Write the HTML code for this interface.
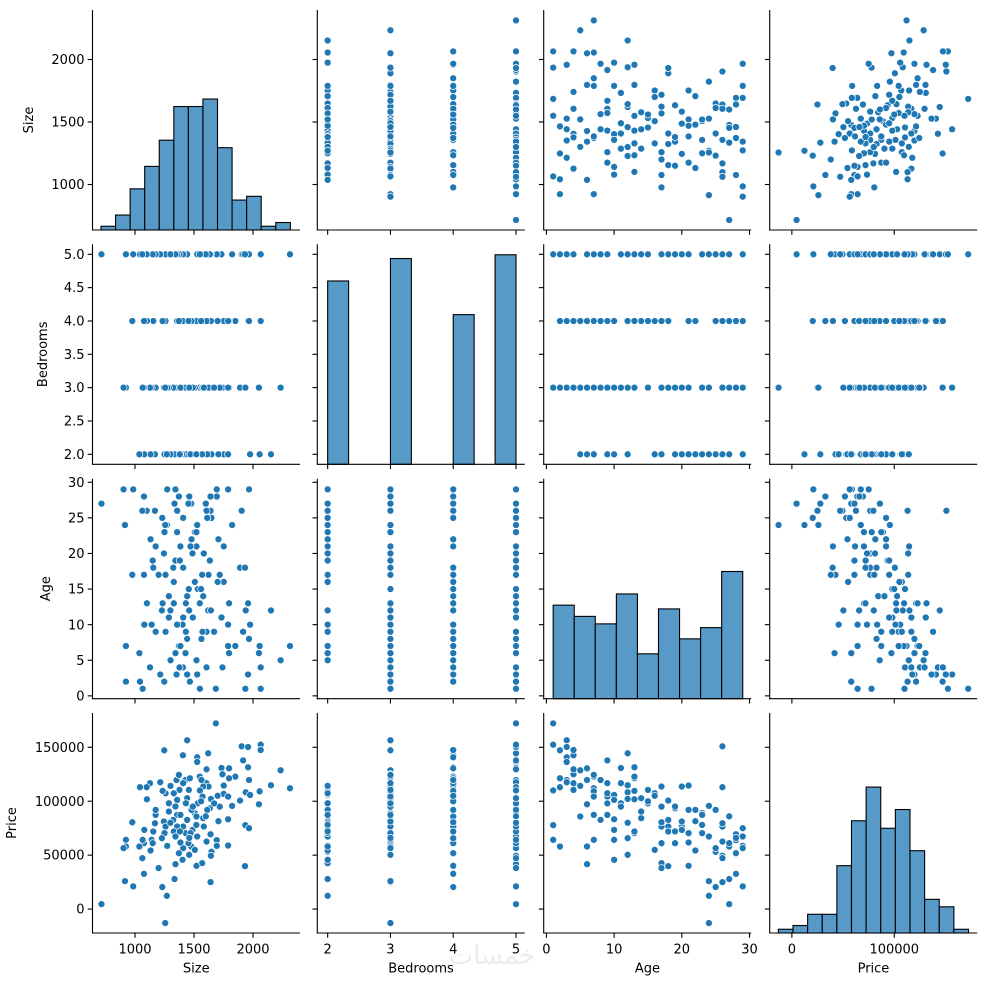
<!DOCTYPE html>
<html><head><meta charset="utf-8">
<style>
html,body{margin:0;padding:0;background:#fff;}
svg{display:block;font-family:"DejaVu Sans","Liberation Sans",sans-serif;}
</style></head>
<body>
<svg id="chart" width="986" height="986" viewBox="0 0 986 986" xmlns="http://www.w3.org/2000/svg">
<text x="492" y="964" font-size="26" fill="#ececec" text-anchor="middle" font-family="'DejaVu Sans',sans-serif">خمسات</text>
</svg>
<script>
// ---- data ----
const varNames = ["Size","Bedrooms","Age","Price"];
const sizes = [716,1685,1442,1248,1406,1527,1527,1620,1904,1958,2065,2065,2234,2313,2152,2056,2050,1916,1958,1966,1938,1975,1890,1850,1797,1797,1733,1741,1752,1752,1789,1823,1789,1789,1718,1707,1693,1693,1640,1648,1643,1640,1932,1935,1966,1606,1606,1623,1549,1563,1578,1572,1643,1634,1612,1578,1583,1606,1569,1532,1507,1521,1487,1527,1476,1507,1521,1428,1408,1465,1456,1442,1431,1479,1442,1408,1431,1470,1453,1408,1459,1403,1352,1372,1377,1329,1357,1343,1357,1385,1324,1357,1329,1343,1385,1372,1343,1335,1287,1287,1259,1301,1245,1259,1250,1228,1273,1270,1256,1231,1200,1214,1234,1175,1175,1169,1155,1141,1150,1132,1101,1127,1099,1042,1079,1076,1062,1076,1037,1065,977,985,915,923,923,903,1490,1560,1520,1600,1670,1700,1380,1300,1460,1550];
const beds = [5,5,3,3,4,4,5,5,5,5,5,4,3,5,2,2,3,5,4,5,3,2,3,4,4,3,5,3,4,2,3,5,4,2,3,2,4,5,3,2,5,3,5,3,4,5,4,3,3,4,5,3,4,5,2,4,3,4,2,5,3,4,2,5,3,2,4,5,3,4,3,5,2,4,3,5,3,2,4,5,3,2,4,3,5,2,4,3,5,2,3,4,5,2,3,4,5,2,3,5,4,2,3,5,2,4,3,2,3,4,5,5,4,3,5,2,4,3,5,2,4,3,5,5,2,3,5,4,2,3,4,5,3,5,3,3,3,4,2,5,3,4,2,5,3,5];
const ages = [27,1,3,2,4,3,3,12,26,3,1,4,5,7,12,7,6,9,13,8,12,10,18,7,6,13,11,4,21,16,7,24,10,29,17,22,28,29,28,25,26,26,18,1,29,4,9,17,13,8,20,9,12,19,25,14,20,26,17,15,23,5,20,24,27,16,21,6,11,2,15,14,9,22,8,18,13,21,27,25,12,10,3,7,4,16,10,19,23,7,18,26,13,29,21,28,6,27,11,14,9,5,20,17,23,12,29,24,24,25,17,3,13,9,21,26,18,10,19,22,13,4,26,2,10,17,26,28,6,1,17,29,24,7,2,29,11,15,23,27,9,16,19,12,28,1];
const prices = [4600,172200,156500,147200,142600,140700,136400,144400,150900,150300,152400,147500,128700,112000,114800,109200,97200,137900,131500,119700,108300,105800,100600,122800,130500,121300,130800,125000,114500,106800,104300,95700,83300,58900,95000,81500,63900,58600,69400,53100,49400,25000,39800,77800,75000,129600,116700,113600,122800,119700,113600,104300,102100,93500,92000,84300,76500,62600,42600,98100,88900,85800,73400,67300,58000,54900,40100,119700,116700,121300,110500,102800,98100,92000,82700,76500,70400,70400,61100,56500,50300,45700,119700,124400,110500,107400,101200,95100,87300,87300,82700,76500,71900,67300,61700,51800,41700,27800,98100,90400,107400,114200,81200,76500,70400,65700,58600,12300,-13000,20400,38000,117600,109600,87300,92000,79600,71900,64200,61100,54300,101800,116700,113000,113000,73400,61100,47200,32700,58000,64200,80500,21000,25900,64200,58000,56500,95000,100000,78000,86000,98000,105000,72000,80000,66000,110000];
// histogram counts (diagonal)
const sizeCounts = [1,4,11,17,24,33,33,35,22,8,9,1,2];
const sizeBinStart = 712, sizeBinWidth = 123.4;
const bedCounts = [49,0,0,55,0,0,40,0,56];
const bedBinStart = 2, bedBinWidth = 1/3;
const ageCounts = [25,22,20,28,12,24,16,19,34];
const ageBinStart = 1, ageBinWidth = 28/9;
const priceCounts = [1,2,5,5,18,30,39,28,33,22,9,7,1];
const priceBinStart = -13190, priceBinWidth = 14284;
// ticks
const sizeTicks = [1000,1500,2000];
const bedYTicks = [2.0,2.5,3.0,3.5,4.0,4.5,5.0];
const bedXTicks = [2,3,4,5];
const ageYTicks = [0,5,10,15,20,25,30];
const ageXTicks = [0,10,20,30];
const priceYTicks = [0,50000,100000,150000];
const priceXTicks = [0,100000];

// ---- layout ----
const colL = [92.5,317.3,543.7,769.7], colW = 207.5;
const rowT = [10,244.3,478.7,713], rowH = 220;
const xDom = [[640,2398],[1.835,5.14],[-0.4,30.25],[-21650,181000]];
const yDom = [[636,2396],[1.85,5.15],[-0.4,30.5],[-22200,181800]];
const dataCols = [sizes,beds,ages,prices];
const xTickSets = [sizeTicks,bedXTicks,ageXTicks,priceXTicks];
const yTickSets = [sizeTicks,bedYTicks,ageYTicks,priceYTicks];
const yTickFmt = [v=>String(v), v=>v.toFixed(1), v=>String(v), v=>String(v)];
const hists = [[sizeCounts,sizeBinStart,sizeBinWidth],[bedCounts,bedBinStart,bedBinWidth],[ageCounts,ageBinStart,ageBinWidth],[priceCounts,priceBinStart,priceBinWidth]];
const yLabelX = [33,47,50,16];
const FS = 13;

function sx(c,v){const d=xDom[c];return colL[c]+(v-d[0])/(d[1]-d[0])*colW;}
function sy(r,v){const d=yDom[r];return rowT[r]+rowH-(v-d[0])/(d[1]-d[0])*rowH;}

const NS="http://www.w3.org/2000/svg";
const svg=document.getElementById('chart');
function mk(tag,attrs,parent){const e=document.createElementNS(NS,tag);for(const k in attrs)e.setAttribute(k,attrs[k]);(parent||svg).appendChild(e);return e;}

let maxCount=0;hists.forEach(h=>h[0].forEach(c=>{if(c>maxCount)maxCount=c;}));
const hScale=rowH/(maxCount*1.05);

for(let r=0;r<4;r++){
  for(let c=0;c<4;c++){
    const g=mk('g',{});
    
    
    const bottom=rowT[r]+rowH;
    if(r===c){
      const [counts,start,w]=hists[c];
      counts.forEach((cnt,i)=>{
        if(cnt<=0)return;
        const x0=sx(c,start+i*w),x1=sx(c,start+(i+1)*w),h=cnt*hScale;
        const b=mk('rect',{x:x0,y:bottom-h,width:x1-x0,height:h,fill:'#5799c7',stroke:'#000','stroke-width':1.1},g);
        
        
      });
    } else {
      const xs=dataCols[c],ys=dataCols[r];
      for(let i=0;i<xs.length;i++){
        const p=mk('circle',{cx:sx(c,xs[i]),cy:sy(r,ys[i]),r:3.5,fill:'#1f77b4',stroke:'#fff','stroke-width':0.7},g);
        
        
      }
    }
    const sp1=mk('line',{x1:colL[c],y1:rowT[r],x2:colL[c],y2:bottom+0.5,stroke:'#000','stroke-width':1.1},g);
    
    
    const sp2=mk('line',{x1:colL[c]-0.5,y1:bottom,x2:colL[c]+colW,y2:bottom,stroke:'#000','stroke-width':1.1},g);
    
    
    yTickSets[r].forEach(t=>{
      const y=sy(r,t);
      mk('line',{x1:colL[c]-4.8,y1:y,x2:colL[c],y2:y,stroke:'#000','stroke-width':1.1},g);
      if(c===0){
        const tl=mk('text',{x:colL[c]-8,y:y+4.6,'font-size':FS,'text-anchor':'end',fill:'#000'},g);
        tl.textContent=yTickFmt[r](t);
        
        
      }
    });
    xTickSets[c].forEach(t=>{
      const x=sx(c,t);
      mk('line',{x1:x,y1:bottom,x2:x,y2:bottom+4.8,stroke:'#000','stroke-width':1.1},g);
      if(r===3){
        const tl=mk('text',{x:x,y:bottom+20.5,'font-size':FS,'text-anchor':'middle',fill:'#000'},g);
        tl.textContent=String(t);
        
        
      }
    });
  }
  const yl=mk('text',{x:yLabelX[r],y:rowT[r]+rowH/2,'font-size':FS,'text-anchor':'middle',fill:'#000',transform:'rotate(-90 '+yLabelX[r]+' '+(rowT[r]+rowH/2)+')'});
  yl.textContent=varNames[r];
  
  
}
for(let c=0;c<4;c++){
  const xl=mk('text',{x:colL[c]+colW/2,y:972.5,'font-size':FS,'text-anchor':'middle',fill:'#000'});
  xl.textContent=varNames[c];
  
  
}
</script>
</body></html>
